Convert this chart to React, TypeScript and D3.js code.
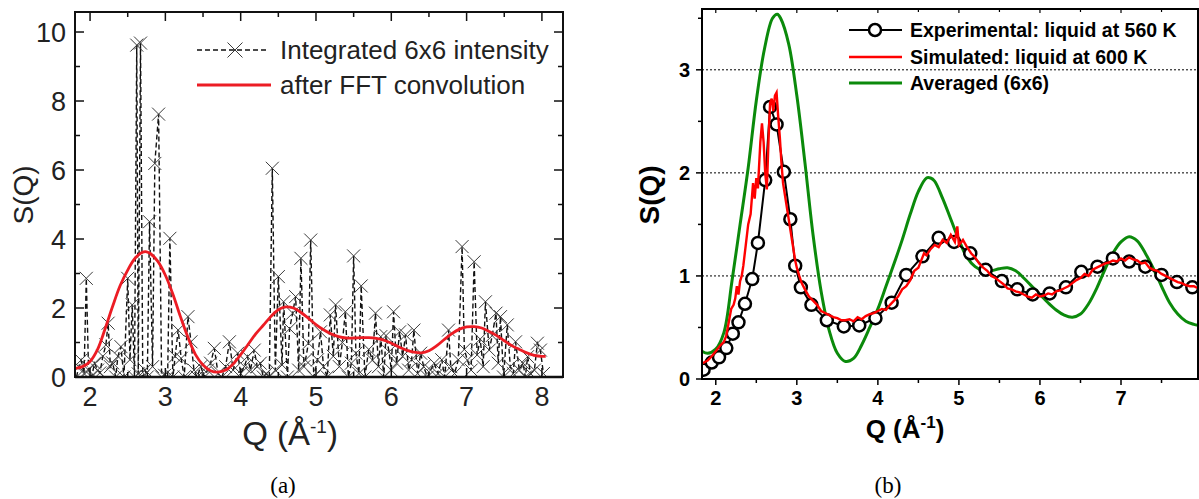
import React from "react";
import * as d3 from "d3";

// ---------- Panel (a) data ----------
const integratedQ = [1.82,1.85,1.88,1.92,1.95,1.98,2.02,2.06,2.10,2.13,2.17,2.21,2.24,2.27,2.30,2.34,2.37,2.41,2.45,2.50,2.53,2.56,2.59,2.62,2.64,2.67,2.70,2.73,2.76,2.79,2.83,2.86,2.91,2.95,2.99,3.03,3.06,3.10,3.13,3.17,3.21,3.25,3.30,3.34,3.38,3.42,3.47,3.52,3.56,3.60,3.65,3.70,3.75,3.80,3.85,3.90,3.96,4.00,4.05,4.09,4.13,4.18,4.22,4.26,4.30,4.34,4.38,4.42,4.46,4.50,4.55,4.57,4.62,4.65,4.69,4.73,4.77,4.80,4.84,4.86,4.90,4.93,4.97,5.02,5.06,5.10,5.15,5.19,5.23,5.26,5.31,5.35,5.39,5.43,5.47,5.50,5.53,5.57,5.60,5.65,5.70,5.75,5.79,5.83,5.86,5.90,5.93,5.97,6.00,6.03,6.07,6.11,6.15,6.19,6.23,6.27,6.30,6.35,6.39,6.43,6.48,6.52,6.57,6.62,6.67,6.71,6.76,6.79,6.84,6.89,6.94,6.97,7.01,7.06,7.10,7.14,7.18,7.22,7.25,7.30,7.34,7.39,7.42,7.45,7.49,7.54,7.58,7.62,7.65,7.70,7.75,7.78,7.81,7.85,7.90,7.94,7.98,8.02];
const integratedS = [0.0,0.3,0.49,0.1,2.86,0.2,0.0,0.4,0.2,0.12,0.6,0.93,1.56,0.3,0.41,0.0,0.6,0.88,0.0,2.86,0.5,2.09,0.0,9.62,0.09,9.68,0.0,0.2,0.0,4.5,0.3,6.19,7.62,0.0,0.05,0.0,4.02,0.0,0.6,1.36,0.54,0.0,1.75,1.02,0.2,0.0,0.3,0.0,0.2,0.4,0.83,0.1,0.0,0.3,1.02,0.2,0.69,0.1,0.3,0.59,0.2,0.78,0.3,0.4,0.0,0.1,0.0,6.05,0.2,2.91,0.35,2.18,0.0,1.4,1.85,2.33,0.2,3.44,0.3,0.49,0.98,3.97,0.0,0.5,1.31,0.3,0.0,1.8,0.6,2.09,0.3,1.0,1.89,0.0,0.4,3.51,0.69,0.1,2.64,0.0,0.8,0.49,1.85,0.3,1.17,0.0,1.2,0.73,0.2,1.89,0.4,1.31,0.6,1.22,0.2,0.5,1.36,0.1,0.69,0.3,0.0,0.2,0.4,0.1,0.5,0.0,1.36,0.3,0.1,0.5,3.78,0.8,0.49,0.2,3.34,0.64,1.1,0.3,2.18,0.78,1.2,1.85,0.4,1.75,0.0,1.51,0.3,0.1,1.02,0.2,0.4,0.0,0.59,0.1,0.2,0.98,0.78,0.1];

const fftQ = [1.81,1.9,2.0,2.1,2.2,2.3,2.4,2.5,2.6,2.7,2.75,2.8,2.9,3.0,3.1,3.2,3.3,3.4,3.5,3.6,3.7,3.8,3.9,4.0,4.1,4.2,4.3,4.4,4.5,4.6,4.7,4.8,4.9,5.0,5.1,5.2,5.3,5.4,5.5,5.6,5.7,5.8,5.9,6.0,6.1,6.2,6.3,6.4,6.5,6.6,6.7,6.8,6.9,7.0,7.1,7.2,7.3,7.4,7.5,7.6,7.7,7.8,7.9,8.0,8.05];
const fftS = [0.25,0.3,0.45,0.8,1.4,2.05,2.65,3.1,3.45,3.62,3.63,3.58,3.35,2.95,2.4,1.75,1.15,0.65,0.35,0.18,0.14,0.2,0.38,0.65,0.95,1.25,1.5,1.75,1.95,2.03,2.0,1.87,1.7,1.52,1.37,1.25,1.17,1.13,1.13,1.14,1.14,1.12,1.07,0.98,0.87,0.78,0.72,0.7,0.76,0.9,1.08,1.25,1.38,1.45,1.46,1.42,1.32,1.2,1.05,0.91,0.8,0.7,0.63,0.6,0.6];

const leftXTicks = [2, 3, 4, 5, 6, 7, 8];
const leftYTicks = [0, 2, 4, 6, 8, 10];
const leftLegend = ["Integrated 6x6 intensity", "after FFT convolution"];

// ---------- Panel (b) data ----------
const expQ = [1.85,1.95,2.04,2.13,2.21,2.28,2.36,2.45,2.52,2.61,2.67,2.75,2.84,2.92,2.98,3.05,3.18,3.37,3.58,3.77,3.97,4.17,4.35,4.55,4.75,4.94,5.14,5.33,5.53,5.72,5.91,6.12,6.32,6.51,6.71,6.90,7.10,7.30,7.50,7.69,7.88];
const expS = [0.09,0.16,0.21,0.30,0.44,0.55,0.73,0.97,1.32,1.93,2.64,2.47,2.01,1.55,1.10,0.89,0.72,0.57,0.51,0.52,0.59,0.74,1.01,1.19,1.37,1.33,1.22,1.06,0.95,0.87,0.82,0.83,0.89,1.04,1.09,1.17,1.14,1.09,1.01,0.94,0.89];

const simQ = [1.83,1.9,1.95,2.0,2.05,2.1,2.13,2.16,2.19,2.22,2.24,2.26,2.28,2.3,2.32,2.34,2.37,2.4,2.43,2.46,2.48,2.5,2.52,2.55,2.57,2.59,2.61,2.63,2.65,2.67,2.69,2.71,2.73,2.75,2.77,2.79,2.81,2.83,2.86,2.89,2.92,2.95,2.98,3.0,3.03,3.06,3.1,3.15,3.2,3.25,3.3,3.35,3.4,3.45,3.5,3.55,3.6,3.65,3.7,3.75,3.8,3.85,3.9,3.95,4.0,4.05,4.1,4.15,4.2,4.25,4.3,4.35,4.4,4.45,4.5,4.55,4.57,4.6,4.65,4.7,4.75,4.8,4.85,4.9,4.95,4.98,5.0,5.05,5.1,5.15,5.2,5.25,5.3,5.35,5.4,5.45,5.5,5.55,5.6,5.65,5.7,5.75,5.8,5.85,5.9,5.95,6.0,6.05,6.1,6.15,6.2,6.25,6.3,6.35,6.4,6.45,6.5,6.55,6.6,6.65,6.7,6.75,6.8,6.85,6.9,6.95,7.0,7.05,7.1,7.15,7.2,7.25,7.3,7.35,7.4,7.45,7.5,7.55,7.6,7.65,7.7,7.75,7.8,7.85,7.9,7.95];
const simS = [0.15,0.18,0.22,0.27,0.32,0.36,0.42,0.55,0.68,0.72,0.78,0.9,0.82,0.95,1.0,1.1,1.3,1.5,1.6,1.9,1.75,1.95,1.85,2.3,2.48,2.3,2.0,1.84,2.3,2.68,2.72,2.6,2.75,2.78,2.55,2.35,2.1,1.9,1.75,1.6,1.45,1.3,1.15,1.08,1.0,0.93,0.87,0.8,0.76,0.72,0.66,0.64,0.62,0.6,0.59,0.57,0.57,0.58,0.56,0.6,0.58,0.61,0.63,0.64,0.66,0.68,0.67,0.72,0.76,0.8,0.87,0.9,0.96,1.05,1.08,1.18,1.22,1.2,1.26,1.3,1.28,1.35,1.32,1.4,1.33,1.48,1.3,1.35,1.28,1.22,1.18,1.12,1.08,1.05,1.0,0.98,0.95,0.92,0.88,0.87,0.85,0.84,0.82,0.8,0.79,0.82,0.8,0.81,0.83,0.82,0.85,0.86,0.88,0.9,0.93,0.96,0.98,1.02,1.0,1.06,1.08,1.1,1.12,1.13,1.15,1.14,1.17,1.15,1.18,1.16,1.15,1.12,1.13,1.08,1.06,1.05,1.02,1.0,0.98,0.96,0.94,0.93,0.91,0.9,0.9,0.88];

const avgQ = [1.83,1.9,2.0,2.1,2.2,2.3,2.4,2.5,2.6,2.7,2.76,2.8,2.9,3.0,3.1,3.2,3.3,3.4,3.5,3.6,3.7,3.8,3.9,4.0,4.1,4.2,4.3,4.4,4.5,4.6,4.65,4.7,4.8,4.9,5.0,5.1,5.2,5.3,5.4,5.5,5.6,5.7,5.8,5.9,6.0,6.1,6.2,6.3,6.4,6.5,6.6,6.7,6.8,6.9,7.0,7.1,7.2,7.3,7.4,7.5,7.6,7.7,7.8,7.9,7.95];
const avgS = [0.27,0.25,0.29,0.45,0.95,1.5,2.05,2.7,3.2,3.5,3.54,3.5,3.25,2.75,2.1,1.4,0.85,0.47,0.25,0.17,0.2,0.33,0.5,0.68,0.9,1.12,1.35,1.6,1.82,1.95,1.95,1.92,1.75,1.55,1.35,1.18,1.09,1.05,1.05,1.07,1.08,1.05,0.98,0.9,0.82,0.74,0.67,0.62,0.6,0.63,0.73,0.88,1.06,1.22,1.33,1.38,1.34,1.22,1.07,0.9,0.74,0.63,0.56,0.53,0.52];

const rightXTicks = [2, 3, 4, 5, 6, 7];
const rightYTicks = [0, 1, 2, 3];
const rightGrid = [1, 2, 3];
const rightLegend = ["Experimental: liquid at 560 K", "Simulated: liquid at 600 K", "Averaged (6x6)"];

const zip = (q: number[], s: number[]) => q.map((v, i) => [v, s[i]] as [number, number]);

export default function App() {
  // Panel (a) scales
  const xL = d3.scaleLinear().domain([1.8, 8.28]).range([75, 563]);
  const yL = d3.scaleLinear().domain([0, 10.58]).range([377, 12]);
  // Panel (b) scales
  const xR = d3.scaleLinear().domain([1.83, 7.95]).range([702, 1198]);
  const yR = d3.scaleLinear().domain([0, 3.59]).range([379, 9]);

  const lineL = d3.line<[number, number]>().x(d => xL(d[0])).y(d => yL(d[1]));
  const smoothL = d3.line<[number, number]>().x(d => xL(d[0])).y(d => yL(d[1])).curve(d3.curveCatmullRom);
  const lineR = d3.line<[number, number]>().x(d => xR(d[0])).y(d => yR(d[1]));
  const smoothR = d3.line<[number, number]>().x(d => xR(d[0])).y(d => yR(d[1])).curve(d3.curveCatmullRom);

  const integ = zip(integratedQ, integratedS);
  const fft = zip(fftQ, fftS);
  const exp = zip(expQ, expS);
  const sim = zip(simQ, simS);
  const avg = zip(avgQ, avgS);

  const xMinorL = d3.range(2, 8.01, 0.5);
  const yMinorL = d3.range(0, 10.01, 1);
  const xMinorR = d3.range(2, 7.96, 0.5);
  const yMinorR = d3.range(0, 3.51, 0.5);

  const X = (cx: number, cy: number, r: number, key: any) => (
    <path key={key} d={`M${cx - r},${cy - r}L${cx + r},${cy + r}M${cx - r},${cy + r}L${cx + r},${cy - r}`} stroke="#3a3a3a" strokeWidth={1} fill="none" />
  );

  const sans = "'Liberation Sans', Arial, Helvetica, sans-serif";

  return (
    <svg width={1199} height={499} style={{ position: "absolute", left: 0, top: 0, background: "#fff" }} fontFamily={sans}>
      <defs>
        <clipPath id="clipL"><rect x={75} y={12} width={488} height={365} /></clipPath>
        <clipPath id="clipR"><rect x={702} y={9} width={496} height={370} /></clipPath>
      </defs>
      <rect x={0} y={0} width={1199} height={499} fill="#fff" />

      {/* ===== Panel (a) ===== */}
      <g clipPath="url(#clipL)">
        <path d={lineL(integ) || ""} fill="none" stroke="#111" strokeWidth={1.4} strokeDasharray="5,3" />
        {integ.map((d, i) => X(xL(d[0]), yL(d[1]), 6.5, "m" + i))}
        <path d={smoothL(fft) || ""} fill="none" stroke="#ec1c24" strokeWidth={2.8} />
      </g>
      {/* frame */}
      <rect x={75} y={12} width={488} height={365} fill="none" stroke="#111" strokeWidth={2} />
      <line x1={75} x2={563} y1={377} y2={377} stroke="#111" strokeWidth={2.6} />
      {/* ticks */}
      {xMinorL.map((t, i) => {
        const major = Number.isInteger(t);
        return (
          <g key={"xlt" + i}>
            <line x1={xL(t)} x2={xL(t)} y1={377} y2={377 - (major ? 9 : 5)} stroke="#111" strokeWidth={1.5} />
            <line x1={xL(t)} x2={xL(t)} y1={12} y2={12 + (major ? 9 : 5)} stroke="#111" strokeWidth={1.5} />
          </g>
        );
      })}
      {yMinorL.map((t, i) => {
        const major = t % 2 === 0;
        return (
          <g key={"ylt" + i}>
            <line x1={75} x2={75 + (major ? 9 : 5)} y1={yL(t)} y2={yL(t)} stroke="#111" strokeWidth={1.5} />
            <line x1={563} x2={563 - (major ? 9 : 5)} y1={yL(t)} y2={yL(t)} stroke="#111" strokeWidth={1.5} />
          </g>
        );
      })}
      {leftXTicks.map(t => (
        <text key={"xl" + t} x={xL(t)} y={406} fontSize={27} textAnchor="middle" fill="#222">{t}</text>
      ))}
      {leftYTicks.map(t => (
        <text key={"yl" + t} x={66} y={yL(t) + 10} fontSize={27} textAnchor="end" fill="#222">{t}</text>
      ))}
      <text transform="translate(33,195) rotate(-90)" fontSize={28} textAnchor="middle" fill="#222">S(Q)</text>
      <text x={290} y={445} fontSize={33} textAnchor="middle" fill="#222">
        Q (Å<tspan dy={-12} fontSize={19}>-1</tspan><tspan dy={12}>)</tspan>
      </text>
      {/* legend (a) */}
      <line x1={197} x2={268} y1={50} y2={50} stroke="#111" strokeWidth={1.4} strokeDasharray="5,3" />
      {X(235, 50, 7.5, "lgx")}
      <text x={280} y={59} fontSize={26} fill="#222">{leftLegend[0]}</text>
      <line x1={197} x2={271} y1={85} y2={85} stroke="#ec1c24" strokeWidth={3} />
      <text x={280} y={94} fontSize={26} fill="#222">{leftLegend[1]}</text>

      {/* ===== Panel (b) ===== */}
      {rightGrid.map(g => (
        <line key={"g" + g} x1={702} x2={1198} y1={yR(g)} y2={yR(g)} stroke="#000" strokeWidth={1} strokeDasharray="2,2" />
      ))}
      <g clipPath="url(#clipR)">
        <path d={smoothR(avg) || ""} fill="none" stroke="#0b8a0b" strokeWidth={3} />
        <path d={lineR(exp) || ""} fill="none" stroke="#000" strokeWidth={2} />
        {exp.map((d, i) => (
          <circle key={"c" + i} cx={xR(d[0])} cy={yR(d[1])} r={6} fill="#fff" stroke="#000" strokeWidth={2.5} />
        ))}
        <path d={lineR(sim) || ""} fill="none" stroke="#ff0000" strokeWidth={2.4} />
      </g>
      <rect x={702} y={9} width={496} height={370} fill="none" stroke="#000" strokeWidth={2} />
      {xMinorR.map((t, i) => {
        const major = Number.isInteger(t);
        return (
          <g key={"xrt" + i}>
            <line x1={xR(t)} x2={xR(t)} y1={379} y2={379 + (major ? 6 : 4)} stroke="#000" strokeWidth={1.5} />
            <line x1={xR(t)} x2={xR(t)} y1={9} y2={9 + (major ? 4 : 3)} stroke="#000" strokeWidth={1.2} />
          </g>
        );
      })}
      {yMinorR.map((t, i) => {
        const major = Number.isInteger(t);
        return <line key={"yrt" + i} x1={702} x2={702 - (major ? 6 : 4)} y1={yR(t)} y2={yR(t)} stroke="#000" strokeWidth={1.5} />;
      })}
      {rightXTicks.map(t => (
        <text key={"xr" + t} x={xR(t)} y={405} fontSize={20} fontWeight="bold" textAnchor="middle" fill="#000">{t}</text>
      ))}
      {rightYTicks.map(t => (
        <text key={"yr" + t} x={690} y={yR(t) + 7} fontSize={20} fontWeight="bold" textAnchor="end" fill="#000">{t}</text>
      ))}
      <text transform="translate(659,195) rotate(-90)" fontSize={28} fontWeight="bold" textAnchor="middle" fill="#000">S(Q)</text>
      <text x={905} y={438} fontSize={26} fontWeight="bold" textAnchor="middle" fill="#000">
        Q (Å<tspan dy={-10} fontSize={17}>-1</tspan><tspan dy={10}>)</tspan>
      </text>
      {/* legend (b) */}
      <line x1={849} x2={902} y1={30} y2={30} stroke="#000" strokeWidth={2} />
      <circle cx={875} cy={30} r={6} fill="#fff" stroke="#000" strokeWidth={2.5} />
      <text x={910} y={37} fontSize={19.5} fontWeight="bold" fill="#000">{rightLegend[0]}</text>
      <line x1={849} x2={902} y1={57} y2={57} stroke="#ff0000" strokeWidth={2.4} />
      <text x={910} y={64} fontSize={19.5} fontWeight="bold" fill="#000">{rightLegend[1]}</text>
      <line x1={849} x2={902} y1={83} y2={83} stroke="#0b8a0b" strokeWidth={3} />
      <text x={910} y={90} fontSize={19.5} fontWeight="bold" fill="#000">{rightLegend[2]}</text>

      {/* captions */}
      <text x={283} y={493} fontSize={23} textAnchor="middle" fontFamily="'Liberation Serif', 'DejaVu Serif', serif">(a)</text>
      <text x={888} y={493} fontSize={23} textAnchor="middle" fontFamily="'Liberation Serif', 'DejaVu Serif', serif">(b)</text>
    </svg>
  );
}
